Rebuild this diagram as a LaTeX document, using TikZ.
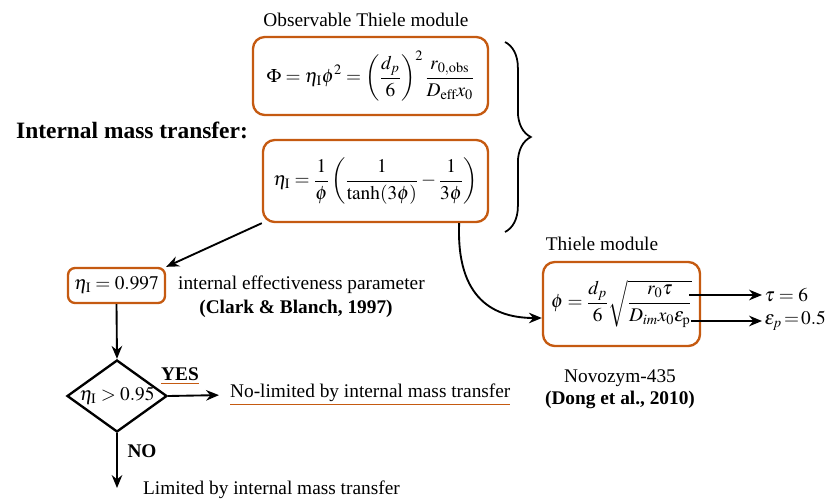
\documentclass[tikz,border=0pt]{standalone}
\usepackage{mathptmx}
\usepackage{fontspec}
\setmainfont{Liberation Serif}
\usetikzlibrary{arrows.meta,positioning,shapes.geometric,calc,decorations.pathreplacing}
\definecolor{boxorange}{RGB}{197,90,17}
\newcommand{\oul}[1]{{\color{boxorange}\underline{\textcolor{black}{#1}}}}
\begin{document}
\begin{tikzpicture}[x=0.03cm,y=-0.03cm,font=\fontsize{16.5}{19}\selectfont,
 obox/.style={draw=boxorange,line width=2pt,rounded corners=10pt,inner sep=0pt},
 arr/.style={-{Stealth[length=11pt,width=9pt]},line width=1.6pt}]
 \useasboundingbox (0,0) rectangle (826,500);
 \node[font=\fontsize{20}{24}\selectfont\bfseries] (imt) at (132,130) {Internal mass transfer:};
 \node (obstitle) at (366,20) {Observable Thiele module};
 \node[obox,minimum width=7.05cm,minimum height=2.34cm] (obs) at (370.5,76)
  {$\displaystyle \Phi=\eta_{\mathrm{I}}\phi^{2}=\left(\frac{d_p}{6}\right)^{2}\frac{r_{0,\mathrm{obs}}}{D_{\mathrm{eff}}x_0}$};
 \node[obox,minimum width=6.75cm,minimum height=2.46cm] (eff) at (375.5,181)
  {$\displaystyle \eta_{\mathrm{I}}=\frac{1}{\phi}\left(\frac{1}{\tanh(3\phi)}-\frac{1}{3\phi}\right)$};
 \draw[line width=1.5pt,decorate,decoration={brace,amplitude=22pt}] (505,42) -- (505,232);
 % effectiveness value and decision
 \node[obox,rounded corners=6pt,minimum width=2.91cm,minimum height=1.05cm] (etaval) at (116.5,285.5)
  {$\eta_{\mathrm{I}}=0.997$};
 \node[anchor=west] (iep) at (174,285) {internal effectiveness parameter};
 \node[font=\fontsize{16.5}{19}\selectfont\bfseries] (clark) at (296,309) {(Clark \& Blanch, 1997)};
 \node[draw,diamond,line width=2pt,minimum width=3cm,minimum height=2.16cm,inner sep=0pt] (dec) at (117,396) {};
 \node at (dec.center) {$\eta_{\mathrm{I}}>0.95$};
 \node[font=\fontsize{16.5}{19}\selectfont\bfseries] (yes) at (180,376) {\oul{YES}};
 \node[anchor=west] (nolim) at (226,395) {\oul{No-limited by internal mass transfer}};
 \node[font=\fontsize{16.5}{19}\selectfont\bfseries] (no) at (142,451) {NO};
 \node[anchor=west] (lim) at (139,490) {Limited by internal mass transfer};
 \coordinate (limend) at (117,488);
 \draw[arr] (eff.south west) -- (etaval.north east);
 \draw[arr] (etaval.south) -- (dec.north);
 \draw[arr,shorten >=6pt] (dec.east) -- (nolim.west);
 \draw[arr] (dec.south) -- (limend);
 % Thiele module
 \node (ttitle) at (602,244) {Thiele module};
 \node[obox,minimum width=4.71cm,minimum height=2.52cm] (thiele) at (621.5,304)
  {$\displaystyle \phi=\frac{d_p}{6}\sqrt{\frac{r_0\tau}{D_{im}x_0\varepsilon_{\mathrm{p}}}}$\hspace{6pt}};
 \node (novo) at (620,378) {Novozym-435};
 \node[font=\fontsize{16.5}{19}\selectfont\bfseries] (dong) at (620,400) {(Dong et al., 2010)};
 \node[anchor=west,inner sep=2pt] (tau) at (762,295) {$\tau=6$};
 \node[anchor=west,inner sep=2pt] (eps) at (762,321) {$\varepsilon_p\!=\!0.5$};
 \draw[arr] ($(thiele.east)+(-12,-9)$) -- (tau.west);
 \draw[arr] ($(thiele.east)+(-10,17)$) -- (eps.west);
 \draw[arr] ($(eff.south east)+(-30,0)$) .. controls (456,300) and (495,318) .. ($(thiele.west)+(0,14)$);
\end{tikzpicture}
\end{document}
